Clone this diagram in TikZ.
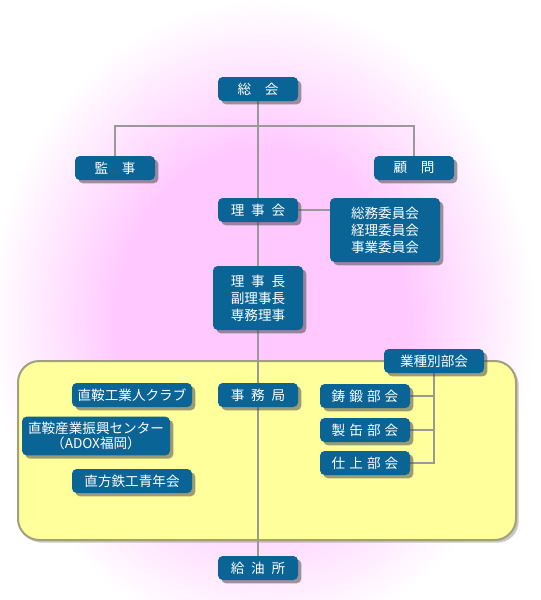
\documentclass[tikz,border=0pt]{standalone}
\usepackage{fontspec}
\newfontfamily\jpfont{Noto Sans CJK JP}
\usetikzlibrary{shadows}
\definecolor{boxblue}{HTML}{0A6496}
\definecolor{linegray}{HTML}{999999}
\definecolor{areayellow}{HTML}{FFFF9C}
\definecolor{areaedge}{HTML}{A0A07A}
\definecolor{glowpink}{HTML}{FFC8FF}
\pgfdeclareradialshading{pinkglow}{\pgfpoint{0bp}{0bp}}{color(0bp)=(glowpink); color(13bp)=(glowpink); color(25bp)=(white); color(50bp)=(white)}
\pgfdeclarelayer{bg}
\pgfdeclarelayer{wires}
\pgfsetlayers{bg,wires,main}
\tikzset{
  post/.style={fill=boxblue, text=white, rounded corners=3.5pt,
    minimum width=60pt, minimum height=18pt, inner sep=1pt, align=center,
    font=\jpfont\fontsize{10.2}{12.8}\selectfont,
    drop shadow={shadow xshift=2.5pt, shadow yshift=-2.5pt, opacity=0.55, fill=black!70}},
  wire/.style={draw=linegray, line width=1.5pt}
}

\begin{document}
\begin{tikzpicture}[x=0.75pt,y=-0.75pt]

\useasboundingbox (0,0) rectangle (540,600);

\node[post] (soukai) at (258,89) {総\quad 会};
\node[post] (kanji) at (115,168) {監\quad 事};
\node[post] (komon) at (414,168) {顧\quad 問};
\node[post] (rijikai) at (258,210) {理\hspace{.5em}事\hspace{.5em}会};
\node[post, minimum width=82.5pt, minimum height=48pt] (iinkai) at (385,230) {総務委員会\\経理委員会\\事業委員会};
\node[post, minimum width=67.5pt, minimum height=48pt] (rijicho) at (258,298) {理\hspace{.5em}事\hspace{.5em}長\\副理事長\\専務理事};
\node[post, minimum width=75pt] (gyoshu) at (434,361) {業種別部会};
\node[post, minimum width=90pt] (club) at (132,395) {直鞍工業人クラブ};
\node[post] (jimukyoku) at (258,395) {事\hspace{.5em}務\hspace{.5em}局};
\node[post, minimum width=67.5pt] (chutan) at (365,396) {鋳\hspace{.3em}鍛\hspace{.3em}部\hspace{.3em}会};
\node[post, minimum width=67.5pt] (seikan) at (365,430) {製\hspace{.3em}缶\hspace{.3em}部\hspace{.3em}会};
\node[post, minimum width=67.5pt] (shiage) at (365,463) {仕\hspace{.3em}上\hspace{.3em}部\hspace{.3em}会};
\node[post, minimum width=111pt, minimum height=29pt, font=\jpfont\fontsize{10.2}{11.5}\selectfont] (center) at (96,436) {直鞍産業振興センター\\（ADOX福岡）};
\node[post, minimum width=90pt] (seinen) at (132,481) {直方鉄工青年会};
\node[post] (kyuyu) at (258,568) {給\hspace{.5em}油\hspace{.5em}所};

\coordinate (branch) at (258,126);

\begin{pgfonlayer}{bg}
\fill[white] (0,0) rectangle (540,600);
\begin{scope}
\clip (0,0) rectangle (540,600);
\shade[shading=pinkglow] (262,320) ellipse[x radius=205pt, y radius=240pt];
\end{scope}
\draw[fill=areayellow, draw=areaedge, line width=1.5pt, rounded corners=16pt,
  drop shadow={shadow xshift=2pt, shadow yshift=-2pt, opacity=0.35, fill=black!60}]
  (18,361) rectangle (516,540);
\end{pgfonlayer}

\begin{pgfonlayer}{wires}
\draw[wire] (soukai) -- (kyuyu);
\draw[wire] (kanji.north) |- (branch) -| (komon.north);
\draw[wire] (rijikai.east) -- (iinkai.west |- rijikai.east);
\draw[wire] (gyoshu.south) |- (shiage.east);
\draw[wire] (chutan.east) -- (chutan.east -| gyoshu.south);
\draw[wire] (seikan.east) -- (seikan.east -| gyoshu.south);
\end{pgfonlayer}

\end{tikzpicture}
\end{document}
